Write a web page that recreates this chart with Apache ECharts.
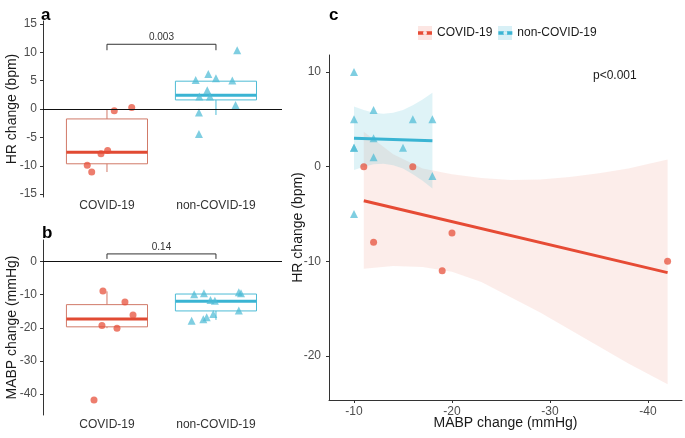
<!DOCTYPE html>
<html><head><meta charset="utf-8">
<script src="https://cdn.jsdelivr.net/npm/echarts@6/dist/echarts.min.js"></script>
<style>html,body{margin:0;padding:0;background:#fff}#c{width:685px;height:438px}</style>
</head><body><div id="c"></div>
<script>
// ---------- data ----------
const categories = ['COVID-19', 'non-COVID-19'];
// panel a: HR change (bpm), box stats [min, q1, median, q3, max]
const hrBoxCovid = [-11.1, -9.65, -7.6, -1.75, 0];
const hrBoxNon = [-1.05, 1.6, 2.4, 4.9, 4.9];
const hrPtsCovid = [[1.067, -0.3], [1.227, 0.25], [1.006, -7.3], [0.945, -7.9], [0.819, -9.9], [0.860, -11.1]];
const hrPtsNon = [[2.195, 10.35], [1.814, 5.1], [1.93, 6.15], [2.0, 5.4], [2.15, 5.0], [1.92, 3.3],
                  [1.847, 2.2], [1.945, 2.2], [2.18, 0.7], [1.844, -0.6], [1.844, -4.4]];
const hrP = '0.003';
// panel b: MABP change (mmHg)
const mabpBoxCovid = [-20.1, -19.7, -17.3, -13, -9];
const mabpBoxNon = [-17.6, -14.9, -12, -9.8, -9.8];
const mabpPtsCovid = [[0.963, -8.9], [1.165, -12.2], [1.239, -16.1], [0.954, -19.3], [1.092, -20.1], [0.881, -41.8]];
const mabpPtsNon = [[1.80, -9.85], [1.89, -9.55], [1.95, -11.6], [1.99, -11.8], [2.21, -9.3], [2.23, -9.6],
                    [2.21, -14.8], [1.975, -15.8], [1.915, -16.8], [1.884, -17.4], [1.777, -17.9]];
const mabpP = '0.14';
// panel c: scatter [MABP change, HR change]
const scCovid = [[-11, 0], [-16, 0], [-12, -8], [-20, -7], [-19, -11], [-42, -10]];
const scNon = [[-10, 10], [-10, 5], [-12, 6], [-16, 5], [-18, 5], [-10, 2], [-10, 2], [-12, 3],
               [-12, 1], [-15, 2], [-18, -1], [-10, -5]];
const fitCovid = [[-11, -3.6], [-42, -11.2]];
const fitNon = [[-10, 3.0], [-18, 2.75]];
const bandCovidX = [-11, -14, -17, -20, -23, -26, -29, -32, -35, -38, -42];
const bandCovidUp = [3.7, 1.3, -0.2, -0.8, -1.2, -1.4, -1.35, -1.1, -0.7, -0.2, 0.75];
const bandCovidLo = [-10.8, -10.5, -10.6, -11.1, -12.2, -13.8, -15.4, -17.2, -19.0, -20.8, -23.0];
const bandNonX = [-10, -11, -12, -13, -14, -15, -16, -17, -18];
const bandNonUp = [6.35, 6.0, 5.7, 5.6, 5.7, 6.0, 6.5, 7.1, 7.8];
const bandNonLo = [-0.35, 0.0, 0.25, 0.3, 0.15, -0.2, -0.8, -1.5, -2.3];
const pText = 'p<0.001';
const ticksHR = [-15, -10, -5, 0, 5, 10, 15];
const ticksMABP = [-40, -30, -20, -10, 0];
const ticksCx = [-40, -30, -20, -10];
const ticksCy = [-20, -10, 0, 10];

// ---------- styles ----------
const FONT = 'Liberation Sans, Arial, sans-serif';
const RED = '#E64B35', BLUE = '#4DBBD5';
const chart = echarts.init(document.getElementById('c'), null, {renderer: 'canvas'});

function boxRender(params, api) {
  const x = api.value(0), mn = api.value(1), q1 = api.value(2), md = api.value(3), q3 = api.value(4), mx = api.value(5);
  const ci = api.value(6);
  const hw = 0.372;
  const edge = ci === 0 ? '#D17A68' : '#4DBBD5';
  const med = ci === 0 ? '#E14A33' : '#3AB4D3';
  const tl = api.coord([x - hw, q3]), br = api.coord([x + hw, q1]);
  const top = api.coord([x, mx]), bot = api.coord([x, mn]);
  const mL = api.coord([x - hw, md]), mR = api.coord([x + hw, md]);
  return {type: 'group', children: [
    {type: 'line', shape: {x1: top[0], y1: top[1], x2: top[0], y2: tl[1]}, style: {stroke: edge, lineWidth: 1}},
    {type: 'line', shape: {x1: bot[0], y1: br[1], x2: bot[0], y2: bot[1]}, style: {stroke: edge, lineWidth: 1}},
    {type: 'rect', shape: {x: tl[0], y: tl[1], width: br[0] - tl[0], height: br[1] - tl[1]}, style: {fill: 'none', stroke: edge, lineWidth: 1}},
    {type: 'line', shape: {x1: mL[0], y1: mL[1], x2: mR[0], y2: mR[1]}, style: {stroke: med, lineWidth: 3}}
  ]};
}
function bracketRender(params, api) {
  const x1 = api.value(0), x2 = api.value(1), yLo = api.value(2), yHi = api.value(3);
  const a = api.coord([x1, yLo]), b = api.coord([x1, yHi]), c = api.coord([x2, yHi]), d = api.coord([x2, yLo]);
  const txt = params.seriesName === 'brA' ? hrP : mabpP;
  return {type: 'group', children: [
    {type: 'polyline', shape: {points: [a, b, c, d]}, style: {stroke: '#333', lineWidth: 1, fill: 'none'}},
    {type: 'text', x: (b[0] + c[0]) / 2, y: b[1] - 2, style: {text: txt, fill: '#333', font: '10px ' + FONT, align: 'center', verticalAlign: 'bottom'}}
  ]};
}
function bandRender(xs, up, lo, fill) {
  return function (params, api) {
    const pts = [];
    for (let i = 0; i < xs.length; i++) pts.push(api.coord([xs[i], up[i]]));
    for (let i = xs.length - 1; i >= 0; i--) pts.push(api.coord([xs[i], lo[i]]));
    return {type: 'polygon', shape: {points: pts, smooth: 0}, style: {fill: fill, stroke: 'none'}};
  };
}

const axisLineStyle = {show: true, onZero: false, lineStyle: {color: '#333', width: 1}};
const tickStyle = (vals) => ({show: true, length: 3, lineStyle: {color: '#333'}, customValues: vals});
const tickLabel = (vals) => ({fontFamily: FONT, fontSize: 12, color: '#4D4D4D', margin: 6, customValues: vals});
const catLabel = (m) => ({fontFamily: FONT, fontSize: 12, color: '#333', margin: m, customValues: [1, 2],
                          formatter: (v) => categories[Math.round(v) - 1]});
const legendIcon = 'path://M0,0L0,0M14,14L14,14M0,5.3L14,5.3L14,8.7L0,8.7ZM5,7a2,2 0 1,0 4,0a2,2 0 1,0 -4,0Z';
const yName = {fontFamily: FONT, fontSize: 14, color: '#1a1a1a', verticalAlign: 'middle'};

const option = {
  animation: false,
  backgroundColor: '#fff',
  grid: [
    {left: 43, top: 21, width: 239, height: 176},
    {left: 43, top: 240, width: 239, height: 175},
    {left: 329, top: 55, width: 353, height: 345}
  ],
  xAxis: [
    {gridIndex: 0, type: 'value', min: 0.413, max: 2.606, axisLine: {show: false}, axisTick: {show: false}, splitLine: {show: false}, axisLabel: catLabel(3)},
    {gridIndex: 1, type: 'value', min: 0.413, max: 2.606, axisLine: {show: false}, axisTick: {show: false}, splitLine: {show: false}, axisLabel: catLabel(4)},
    {gridIndex: 2, type: 'value', inverse: true, min: -43.47, max: -7.45, axisLine: axisLineStyle, axisTick: tickStyle(ticksCx),
     splitLine: {show: false}, axisLabel: Object.assign(tickLabel(ticksCx), {margin: 6}),
     name: 'MABP change (mmHg)', nameLocation: 'middle', nameGap: 16, nameMoveOverlap: false,
     nameTextStyle: {fontFamily: FONT, fontSize: 14, color: '#1a1a1a', verticalAlign: 'top'}}
  ],
  yAxis: [
    {gridIndex: 0, type: 'value', min: -15.5, max: 15.5, axisLine: axisLineStyle, axisTick: tickStyle(ticksHR), splitLine: {show: false},
     axisLabel: tickLabel(ticksHR), name: 'HR change (bpm)', nameLocation: 'middle', nameGap: 31, nameMoveOverlap: false,
     nameTextStyle: yName},
    {gridIndex: 1, type: 'value', min: -46.3, max: 6.5, axisLine: axisLineStyle, axisTick: tickStyle(ticksMABP), splitLine: {show: false},
     axisLabel: tickLabel(ticksMABP), name: 'MABP change (mmHg)', nameLocation: 'middle', nameGap: 31, nameMoveOverlap: false,
     nameTextStyle: yName},
    {gridIndex: 2, type: 'value', min: -24.66, max: 11.8, axisLine: axisLineStyle, axisTick: tickStyle(ticksCy), splitLine: {show: false},
     axisLabel: Object.assign(tickLabel(ticksCy), {margin: 8}), name: 'HR change (bpm)', nameLocation: 'middle', nameGap: 31, nameMoveOverlap: false,
     nameTextStyle: yName}
  ],
  legend: {
    data: [{name: 'COVID-19', icon: legendIcon}, {name: 'non-COVID-19', icon: legendIcon}],
    left: 418, top: 26, itemWidth: 14, itemHeight: 14, itemGap: 6,
    textStyle: {fontFamily: FONT, fontSize: 12, color: '#1a1a1a'}, padding: 0
  },
  graphic: [
    {type: 'rect', left: 418, top: 26, shape: {width: 14, height: 14}, style: {fill: '#FCE6E3'}, z: 0},
    {type: 'rect', left: 498, top: 26, shape: {width: 14, height: 14}, style: {fill: '#D8F0F6'}, z: 0},
    {type: 'text', left: 41, top: 7, style: {text: 'a', font: 'bold 17px ' + FONT, fill: '#000'}},
    {type: 'text', left: 42, top: 225, style: {text: 'b', font: 'bold 17px ' + FONT, fill: '#000'}},
    {type: 'text', left: 329, top: 7, style: {text: 'c', font: 'bold 17px ' + FONT, fill: '#000'}},
    {type: 'text', left: 593, top: 70, style: {text: pText, font: '12px ' + FONT, fill: '#1a1a1a'}}
  ],
  series: [
    // panel a
    {type: 'custom', name: 'boxA', xAxisIndex: 0, yAxisIndex: 0, renderItem: boxRender,
     encode: {x: 0, y: [1, 2, 3, 4, 5]},
     data: [[1].concat(hrBoxCovid, [0]), [2].concat(hrBoxNon, [1])], z: 2},
    {type: 'scatter', name: 'ptsAc', xAxisIndex: 0, yAxisIndex: 0, data: hrPtsCovid, symbol: 'circle', symbolSize: 7,
     itemStyle: {color: RED, opacity: 0.72}, z: 3,
     markLine: {silent: true, symbol: ['none', 'none'], label: {show: false}, lineStyle: {color: '#111', width: 1, type: 'solid'}, data: [{yAxis: 0}], z: 4}},
    {type: 'scatter', name: 'ptsAn', xAxisIndex: 0, yAxisIndex: 0, data: hrPtsNon, symbol: 'triangle', symbolSize: 8,
     itemStyle: {color: BLUE, opacity: 0.72}, z: 3},
    // panel b
    {type: 'custom', name: 'boxB', xAxisIndex: 1, yAxisIndex: 1, renderItem: boxRender,
     encode: {x: 0, y: [1, 2, 3, 4, 5]},
     data: [[1].concat(mabpBoxCovid, [0]), [2].concat(mabpBoxNon, [1])], z: 2},
    {type: 'custom', name: 'brA', xAxisIndex: 0, yAxisIndex: 0, renderItem: bracketRender,
     encode: {x: [0, 1], y: [2, 3]}, data: [[1, 2, 10.35, 11.4]], z: 5},
    {type: 'custom', name: 'brB', xAxisIndex: 1, yAxisIndex: 1, renderItem: bracketRender,
     encode: {x: [0, 1], y: [2, 3]}, data: [[1, 2, 0.8, 2.3]], z: 5},
    {type: 'scatter', name: 'ptsBc', xAxisIndex: 1, yAxisIndex: 1, data: mabpPtsCovid, symbol: 'circle', symbolSize: 7,
     itemStyle: {color: RED, opacity: 0.72}, z: 3,
     markLine: {silent: true, symbol: ['none', 'none'], label: {show: false}, lineStyle: {color: '#111', width: 1, type: 'solid'}, data: [{yAxis: 0}], z: 4}},
    {type: 'scatter', name: 'ptsBn', xAxisIndex: 1, yAxisIndex: 1, data: mabpPtsNon, symbol: 'triangle', symbolSize: 8,
     itemStyle: {color: BLUE, opacity: 0.72}, z: 3},
    // panel c
    {type: 'custom', name: 'bandC', xAxisIndex: 2, yAxisIndex: 2, renderItem: bandRender(bandCovidX, bandCovidUp, bandCovidLo, 'rgba(230,75,53,0.1)'),
     data: [[bandCovidX[0], bandCovidUp[0]]], z: 1},
    {type: 'custom', name: 'bandN', xAxisIndex: 2, yAxisIndex: 2, renderItem: bandRender(bandNonX, bandNonUp, bandNonLo, 'rgba(77,187,213,0.18)'),
     data: [[bandNonX[0], bandNonUp[0]]], z: 1},
    {type: 'scatter', name: 'scC', xAxisIndex: 2, yAxisIndex: 2, data: scCovid, symbol: 'circle', symbolSize: 7,
     itemStyle: {color: RED, opacity: 0.72}, z: 3},
    {type: 'scatter', name: 'scN', xAxisIndex: 2, yAxisIndex: 2, data: scNon, symbol: 'triangle', symbolSize: 8,
     itemStyle: {color: BLUE, opacity: 0.72}, z: 3},
    {type: 'line', name: 'COVID-19', xAxisIndex: 2, yAxisIndex: 2, data: fitCovid, showSymbol: false, symbol: 'circle',
     lineStyle: {color: RED, width: 3}, itemStyle: {color: RED}, z: 4},
    {type: 'line', name: 'non-COVID-19', xAxisIndex: 2, yAxisIndex: 2, data: fitNon, showSymbol: false, symbol: 'triangle',
     lineStyle: {color: '#3AB4D3', width: 3}, itemStyle: {color: '#3AB4D3'}, z: 4}
  ]
};
chart.setOption(option);
</script>
</body></html>
